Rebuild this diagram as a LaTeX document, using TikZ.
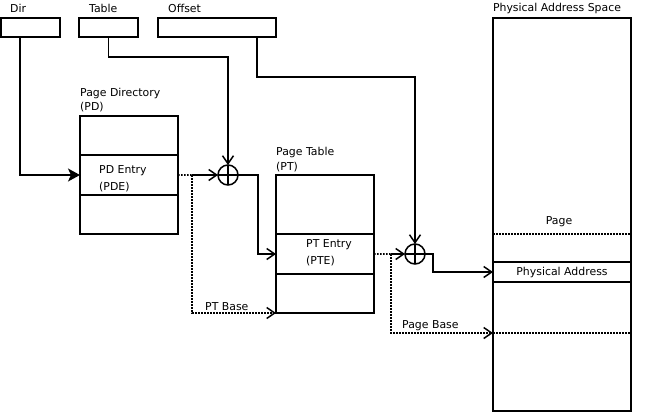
\documentclass[tikz,border=0pt]{standalone}
\usepackage{fontspec}
\setmainfont{DejaVu Sans}
\usetikzlibrary{arrows.meta}
\begin{document}
\begin{tikzpicture}[x=1bp,y=-1bp,
  lw/.style={line width=1.5bp},
  cell/.style={draw,lw,inner sep=0pt,outer sep=0pt,anchor=north west},
  lbl/.style={inner sep=0pt,anchor=west,font=\fontsize{10.9bp}{12bp}\selectfont},
  clbl/.style={inner sep=0pt,font=\fontsize{10.9bp}{12bp}\selectfont},
  adder/.style={draw,lw,circle,minimum size=20bp,inner sep=0pt,outer sep=0pt,
    path picture={\draw[lw] (path picture bounding box.north) -- (path picture bounding box.south)
      (path picture bounding box.west) -- (path picture bounding box.east);}},
  openarr/.style={lw,-{Straight Barb[length=8bp,width=11bp,line width=1.5bp]}},
  fillarr/.style={lw,-{Stealth[length=12bp,width=13bp,inset=3bp]}},
  dotline/.style={line width=1.6bp,dash pattern=on 1.5bp off 1.5bp},
  dotarr/.style={dotline,-{Straight Barb[length=8bp,width=11bp,line width=1.5bp]}}
]
\useasboundingbox (0,0) rectangle (646,419);
% linear address fields
\node[cell,minimum width=59bp,minimum height=19bp] (dir) at (1,18) {};
\node[cell,minimum width=59bp,minimum height=19bp] (table) at (79,18) {};
\node[cell,minimum width=118bp,minimum height=19bp] (offset) at (158,18) {};
\node[lbl] (ldir) at (10,8) {Dir};
\node[lbl] (ltable) at (89,8) {Table};
\node[lbl] (loffset) at (168,8) {Offset};
% page directory
\node[cell,minimum width=98bp,minimum height=39bp] (pd1) at (80,116) {};
\node[cell,minimum width=98bp,minimum height=40bp] (pde) at (80,155) {};
\node[cell,minimum width=98bp,minimum height=39bp] (pd3) at (80,195) {};
\node[lbl] (lpd1) at (80,93) {Page Directory};
\node[lbl] (lpd2) at (80,107) {(PD)};
\node[lbl] (lpde1) at (99,171) {PD Entry};
\node[lbl] (lpde2) at (99,187) {(PDE)};
% page table
\node[cell,minimum width=98bp,minimum height=59bp] (pt1) at (276,175) {};
\node[cell,minimum width=98bp,minimum height=40bp] (pte) at (276,234) {};
\node[cell,minimum width=98bp,minimum height=39bp] (pt3) at (276,274) {};
\node[lbl] (lpt1) at (276,152) {Page Table};
\node[lbl] (lpt2) at (276,167) {(PT)};
\node[lbl] (lpte1) at (306,245) {PT Entry};
\node[lbl] (lpte2) at (306,261) {(PTE)};
% physical address space
\node[cell,minimum width=138bp,minimum height=393bp] (phys) at (493,18) {};
\node[clbl] (lphys) at (557,8) {Physical Address Space};
\node[cell,minimum width=138bp,minimum height=20bp] (paddr) at (493,262) {};
\node[clbl] (lpaddr) at (paddr.center) {Physical Address};
\node[clbl] (lpage) at (559,222) {Page};
\coordinate (pgl) at (493,234);
\coordinate (pgr) at (631,234);
\coordinate (pbl) at (493,333);
\coordinate (pbr) at (631,333);
\draw[dotline] (pgl) -- (pgr);
\draw[dotline] (pbl) -- (pbr);
% adders
\node[adder] (c1) at (228,175) {};
\node[adder] (c2) at (415,254) {};
% connectors
\coordinate (d0) at (20,37);
\draw[fillarr] (d0) |- (pde.west);
\draw[openarr] (table.south) -- ++(0,20) -| (c1.north);
\coordinate (o0) at (257,37);
\coordinate (o1) at (257,77);
\draw[openarr] (o0) -- (o1) -| (c2.north);
\coordinate (s1) at (192,175);
\draw[dotline] (pde.east) -- (s1);
\draw[openarr] (s1) -- (c1.west);
\draw[dotarr] (s1) |- (pt3.south west);
\node[lbl] (lptb) at (205,307) {PT Base};
\coordinate (k1) at (258,175);
\draw[openarr] (c1.east) -- (k1) |- (pte.west);
\coordinate (s2) at (391,254);
\draw[dotline] (pte.east) -- (s2);
\draw[openarr] (s2) -- (c2.west);
\draw[dotarr] (s2) |- (pbl);
\node[lbl] (lpgb) at (402,326) {Page Base};
\coordinate (k2) at (433,254);
\draw[openarr] (c2.east) -- (k2) |- (paddr.west);
\end{tikzpicture}
\end{document}
